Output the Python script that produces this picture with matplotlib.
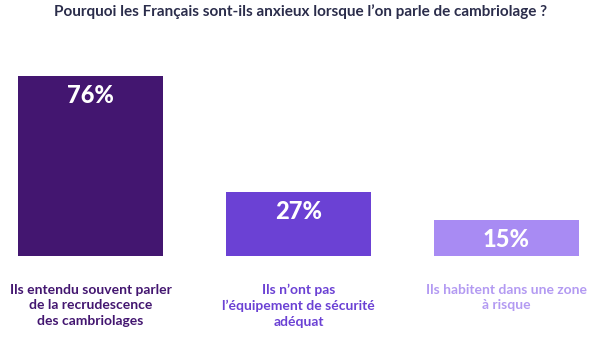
import matplotlib.pyplot as plt

# Données
categories = [
    "Ils entendu souvent parler\nde la recrudescence\ndes cambriolages",
    "Ils n’ont pas\nl’équipement de sécurité\nadéquat",
    "Ils habitent dans une zone\nà risque",
]
values = [76, 27, 15]
value_labels = ["76%", "27%", "15%"]
bar_colors = ["#431670", "#6b41d4", "#a88bf3"]
label_colors = ["#431670", "#6b41d4", "#b39af2"]

title = "Pourquoi les Français sont-ils anxieux lorsque l’on parle de cambriolage ?"

plt.rcParams['font.family'] = ['Lato', 'DejaVu Sans']

W, H = 602, 343
fig = plt.figure(figsize=(W / 100, H / 100), dpi=100)
fig.patch.set_facecolor("white")

# axe placé pour que les barres tombent au bon endroit
left, right = 18 / W, 579 / W
bottom = (H - 256) / H
height = (180 / 76 * 100) / H
ax = fig.add_axes([left, bottom, right - left, height])

width = 0.697
x = range(len(values))
bars = ax.bar(x, values, width=width, color=bar_colors)
ax.set_xlim(-width / 2, len(values) - 1 + width / 2)
ax.set_ylim(0, 100)
ax.axis("off")

for i, b in enumerate(bars):
    ax.annotate(value_labels[i], (b.get_x() + b.get_width() / 2, b.get_height()),
                xytext=(0, -14), textcoords="offset points", ha="center", va="center",
                color="white", fontsize=17, fontweight="black")
    ax.annotate(categories[i], (b.get_x() + b.get_width() / 2, 0),
                xytext=(0, -20), textcoords="offset points", ha="center", va="top",
                color=label_colors[i], fontsize=10, fontweight="bold", linespacing=1.35)

fig.text(0.5, 1 - 12 / H, title, ha="center", va="center",
         fontsize=11, fontweight="bold", color="#2b2d4b")

fig.savefig("out.png", dpi=100)
